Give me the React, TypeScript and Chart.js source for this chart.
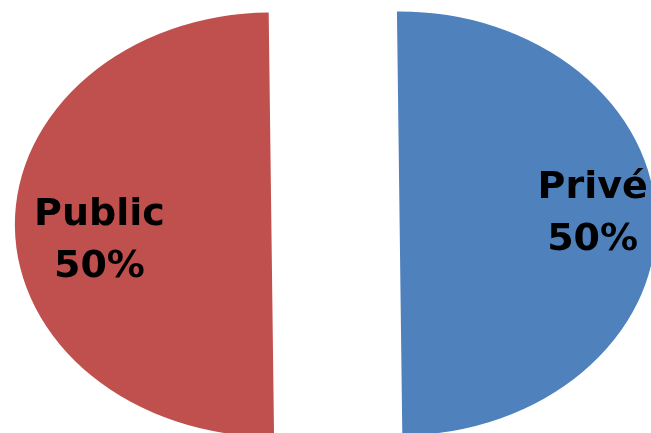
import React, { useEffect, useRef } from "react";
import { Chart, registerables, ArcElement } from "chart.js";

Chart.register(...registerables);

// ---- data ----
const categories = ["Privé", "Public"];
const values = [50, 50];
const colors = ["#4F81BD", "#C0504D"];

// horizontal stretch of the pie (ellipse look) and slice explosion distance
const SX = 1.21;
const EXPLODE = 53;

const piePlugin = {
  id: "ellipsePie",
  afterDatasetUpdate(chart: any) {
    const meta = chart.getDatasetMeta(0);
    meta.data.forEach((arc: any) => {
      arc.draw = function (ctx: CanvasRenderingContext2D) {
        const mid = (this.startAngle + this.endAngle) / 2;
        ctx.save();
        ctx.translate(Math.cos(mid) * EXPLODE, Math.sin(mid) * EXPLODE);
        (ArcElement.prototype as any).draw.call(this, ctx);
        ctx.restore();
      };
    });
  },
  beforeDatasetsDraw(chart: any) {
    const { ctx, chartArea } = chart;
    const cx = (chartArea.left + chartArea.right) / 2;
    const cy = (chartArea.top + chartArea.bottom) / 2;
    ctx.save();
    ctx.translate(cx, cy);
    ctx.scale(SX, 1);
    ctx.translate(-cx, -cy);
  },
  afterDatasetsDraw(chart: any, _args: any, opts: any) {
    const { ctx } = chart;
    ctx.restore();
    const meta = chart.getDatasetMeta(0);
    const total = values.reduce((a, b) => a + b, 0);
    ctx.save();
    ctx.font = 'bold 38px "DejaVu Sans"';
    ctx.fillStyle = "#000";
    ctx.textAlign = "center";
    ctx.textBaseline = "alphabetic";
    meta.data.forEach((arc: any, i: number) => {
      const { x, y, startAngle, endAngle } = arc.getProps(
        ["x", "y", "startAngle", "endAngle"],
        true
      );
      const place = opts.place[i];
      const a = (startAngle + endAngle) / 2 + (place.shift * Math.PI) / 180;
      const px = x + Math.cos(a) * place.dist * SX;
      const py = y + Math.sin(a) * place.dist;
      const pct = Math.round((values[i] / total) * 100) + "%";
      ctx.fillText(categories[i], px, py - 26);
      ctx.fillText(pct, px, py + 26);
    });
    ctx.restore();
  },
};

export default function App() {
  const ref = useRef<HTMLCanvasElement | null>(null);
  useEffect(() => {
    if (!ref.current) return;
    const chart = new Chart(ref.current, {
      type: "pie",
      data: {
        labels: categories,
        datasets: [
          {
            data: values,
            backgroundColor: colors,
            borderWidth: 0,
            offset: 0,
            hoverOffset: 0,
            clip: false,
          } as any,
        ],
      },
      options: {
        animation: false,
        responsive: true,
        maintainAspectRatio: false,
        rotation: -0.6,
        radius: 212,
        layout: { padding: { left: 20, top: 15, right: 0, bottom: 0 } },
        events: [],
        plugins: {
          legend: { display: false },
          tooltip: { enabled: false },
          ellipsePie: {
            place: [
              { dist: 212.5, shift: 0.7 },
              { dist: 197, shift: -7.4 },
            ],
          },
        } as any,
      } as any,
      plugins: [piePlugin],
    });
    return () => chart.destroy();
  }, []);
  return (
    <div
      style={{
        position: "absolute",
        left: 0,
        top: 0,
        width: 651,
        height: 433,
        background: "#fff",
      }}
    >
      <canvas ref={ref} />
    </div>
  );
}
